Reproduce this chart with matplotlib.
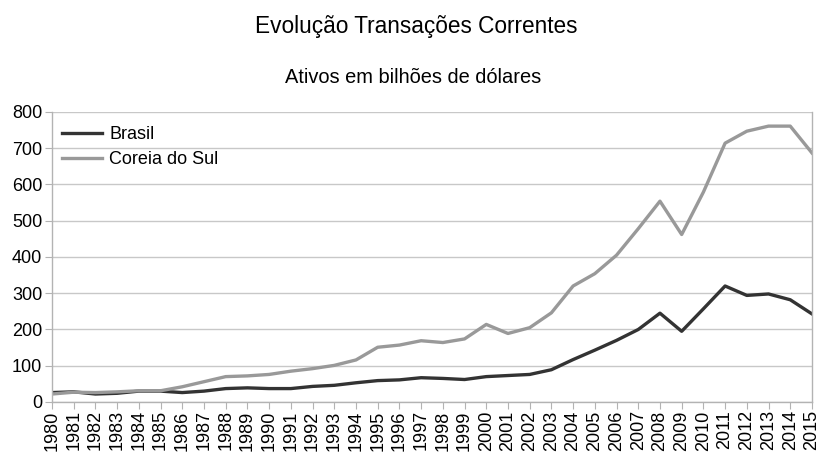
import matplotlib
matplotlib.use("Agg")
import matplotlib.pyplot as plt
import numpy as np

plt.rcParams["font.family"] = ["Liberation Sans", "DejaVu Sans"]

years = [str(y) for y in range(1980, 2016)]
brasil = [26, 28, 22, 24, 30, 30, 26, 30, 37, 39, 37, 37, 43, 46, 53, 59, 61, 67,
          65, 62, 70, 73, 76, 89, 117, 143, 170, 200, 245, 195, 257, 320,
          294, 298, 282, 243]
coreia = [22, 27, 26, 28, 31, 31, 42, 56, 70, 72, 76, 85, 92, 101, 116, 151, 157, 169,
          164, 174, 214, 189, 205, 246, 320, 354, 405, 478, 554, 462, 579, 714,
          747, 761, 761, 687]

fig = plt.figure(figsize=(8.19, 4.53), dpi=100)
ax = fig.add_axes([0.0635, 0.1126, 0.9279, 0.6402])

x = np.arange(len(years))
ax.plot(x, brasil, color="#333333", linewidth=2.4, label="Brasil", solid_joinstyle="round")
ax.plot(x, coreia, color="#999999", linewidth=2.4, label="Coreia do Sul", solid_joinstyle="round")

ax.set_xlim(0, len(years) - 1)
ax.set_ylim(0, 800)
ax.set_yticks(range(0, 801, 100))
ax.set_xticks(x)
ax.set_xticklabels(years, rotation=90, fontsize=13)
ax.tick_params(axis="y", labelsize=13, length=5, color="#b3b3b3", pad=2)
ax.tick_params(axis="x", length=5, color="#b3b3b3", pad=1)
ax.grid(axis="y", color="#c8c8c8", linewidth=1)
ax.set_axisbelow(True)
ax.spines["top"].set_visible(False)
for side in ["left", "bottom", "right"]:
    ax.spines[side].set_color("#b3b3b3")
    ax.spines[side].set_linewidth(1)

ax.legend(loc="upper left", bbox_to_anchor=(-0.003, 0.995), frameon=False, fontsize=13,
          handlelength=2.2, handletextpad=0.4, labelspacing=0.45, borderaxespad=0.3)

fig.text(0.508, 0.942, "Evolução Transações Correntes", ha="center", va="center", fontsize=16.3)
fig.text(0.505, 0.83, "Ativos em bilhões de dólares", ha="center", va="center", fontsize=14.4)

fig.savefig("out.png", dpi=100)
